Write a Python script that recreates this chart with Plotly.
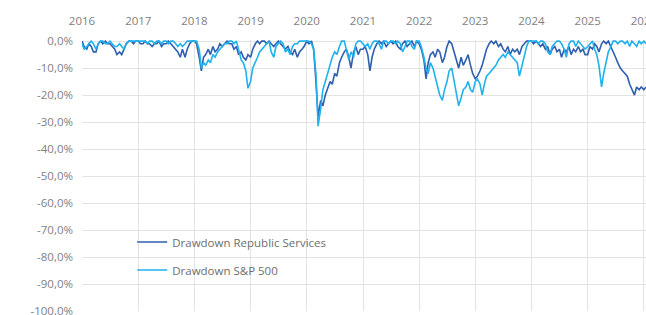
import pandas as pd
import plotly.graph_objects as go

# semi-monthly sample dates (1st and 15th of each month), Jan 2016 - Jan 2026
dates = pd.date_range("2016-01-01", periods=242, freq="SMS")

# Drawdown Republic Services (%), 24 values per year
rsg_2016 = [0, -2, -3, -1, -2, -4, -4, -1, 0, -1, 0, -1, -1, -2, -3, -5, -4, -5, -3, -1, 0, 0, -1, 0]
rsg_2017 = [0, -1, -1, 0, -1, -1, -2, -1, -1, 0, -2, -1, -1, 0, -1, -2, -3, -4, -6, -3, -6, -3, -1, 0]
rsg_2018 = [0, -1, -6, -11, -6, -5, -3, -5, -2, -4, -3, -1, -2, -1, 0, -1, -1, -3, -2, -5, -4, -6, -7, -5]
rsg_2019 = [-6, -3, -1, 0, -1, 0, 0, -1, 0, -1, -2, -1, 0, -1, -2, -3, -2, -4, -5, -3, -6, -4, -3, -2]
rsg_2020 = [0, -1, 0, -3, -15, -28, -22, -24, -20, -18, -15, -16, -12, -13, -8, -6, -4, -3, -6, -10, -4, -2, -5, -3]
rsg_2021 = [-3, -2, -5, -11, -6, -3, -1, 0, -1, 0, -2, -1, 0, -1, 0, -2, -3, -1, 0, -2, -1, 0, -2, 0]
rsg_2022 = [-1, -3, -7, -14, -8, -5, -4, -6, -3, -4, -8, -6, -2, 0, -1, -4, -7, -10, -6, -9, -7, -5, -9, -12]
rsg_2023 = [-14, -13, -11, -9, -6, -3, -1, 0, -1, 0, -2, -1, -3, -4, -2, -5, -3, -4, -3, -5, -2, -1, 0, 0]
rsg_2024 = [0, -1, 0, -1, -2, -1, -3, -2, -5, -3, -2, -4, -3, -6, -3, -4, -2, -5, -3, -4, -2, -4, -3, -5]
rsg_2025 = [-5, -2, -3, -1, -2, -4, -1, 0, -1, 0, -2, -4, -6, -8, -10, -11, -12, -13, -16, -18, -20, -17, -18, -17]
rsg_2026 = [-18, -17]

# Drawdown S&P 500 (%)
spx_2016 = [-1, -3, -2, -1, 0, -1, -3, -1, 0, 0, -1, -1, 0, -1, -2, -2, -1, -2, -3, -1, 0, 0, 0, 0]
spx_2017 = [0, 0, 0, 0, -1, 0, 0, -1, 0, 0, -1, 0, 0, -1, 0, 0, -1, -2, -1, -2, -1, 0, 0, 0]
spx_2018 = [0, 0, -3, -10, -8, -9, -7, -8, -5, -6, -4, -3, -2, -1, -1, 0, 0, -1, 0, -3, -7, -8, -11, -17.5]
spx_2019 = [-15, -10, -8, -6, -4, -3, -2, -1, 0, -4, -6, -2, -1, 0, -1, -4, -3, -5, -2, -1, -1, 0, 0, 0]
spx_2020 = [0, 0, -1, -3, -12, -31.5, -25, -18, -15, -12, -8, -6, -4, -5, -2, 0, 0, -3, -7, -4, -6, -1, 0, 0]
spx_2021 = [-1, -2, -1, -3, -1, 0, 0, -1, -3, 0, 0, -1, 0, 0, -1, 0, -1, -4, -2, 0, 0, -2, -3, 0]
spx_2022 = [0, -2, -6, -10, -12, -8, -10, -13, -17, -20, -22, -18, -15, -11, -10, -14, -19, -24, -21, -18, -17, -15, -18, -19]
spx_2023 = [-15, -14, -16, -20, -16, -13, -12, -11, -10, -9, -7, -6, -5, -6, -4, -5, -6, -7, -8, -13, -9, -5, -2, 0]
spx_2024 = [0, 0, 0, -1, 0, 0, -1, -4, -5, -2, -1, 0, 0, -1, -3, -6, -1, 0, 0, -2, 0, -1, -2, -3]
spx_2025 = [-2, -1, 0, -3, -5, -9, -17, -12, -8, -4, -2, 0, 0, -1, 0, 0, -1, 0, -2, 0, -1, -2, 0, -1]
spx_2026 = [0, -1]

rsg = (rsg_2016 + rsg_2017 + rsg_2018 + rsg_2019 + rsg_2020 + rsg_2021
       + rsg_2022 + rsg_2023 + rsg_2024 + rsg_2025 + rsg_2026)
spx = (spx_2016 + spx_2017 + spx_2018 + spx_2019 + spx_2020 + spx_2021
       + spx_2022 + spx_2023 + spx_2024 + spx_2025 + spx_2026)

series_names = ["Drawdown Republic Services", "Drawdown S&P 500"]

y_tick_vals = [0, -10, -20, -30, -40, -50, -60, -70, -80, -90, -100]
y_tick_labels = ["0,0%", "-10,0%", "-20,0%", "-30,0%", "-40,0%", "-50,0%",
                 "-60,0%", "-70,0%", "-80,0%", "-90,0%", "-100,0%"]
x_tick_vals = [f"{y}-01-01" for y in range(2016, 2027)]
x_tick_labels = [str(y) for y in range(2016, 2027)]

DARK = "#2f5fae"
LIGHT = "#1fb2ee"
FONT = "Open Sans"

fig = go.Figure()
fig.add_trace(go.Scatter(x=dates, y=rsg, mode="lines", name=series_names[0],
                         line=dict(color=DARK, width=1.6), legend="legend"))
fig.add_trace(go.Scatter(x=dates, y=spx, mode="lines", name=series_names[1],
                         line=dict(color=LIGHT, width=1.6), legend="legend2"))

legend_style = dict(font=dict(family=FONT, size=11.5, color="#6e6e6e"),
                    bgcolor="rgba(0,0,0,0)", xanchor="left", yanchor="middle",
                    itemwidth=30)

# The chart is cropped at the right and bottom edges of the 646x315 view,
# so the figure is drawn slightly larger and the overflow is hidden.
fig.update_layout(
    width=690, height=335,
    margin=dict(l=82, r=44, t=40, b=24),
    paper_bgcolor="white", plot_bgcolor="white",
    font=dict(family=FONT, size=11, color="#7f7f7f"),
    showlegend=True,
    legend=dict(x=0.089, y=(311 - 242) / 271, **legend_style),
    legend2=dict(x=0.089, y=(311 - 270) / 271, **legend_style),
    xaxis=dict(
        side="top", type="date",
        range=["2016-01-01", "2026-01-15"],
        tickvals=x_tick_vals, ticktext=x_tick_labels,
        showgrid=True, gridcolor="#e3e3e3", gridwidth=1,
        zeroline=False, showline=False, ticks="",
        tickfont=dict(family=FONT, size=11.5, color="#7f7f7f"),
        ticklabelstandoff=12, automargin=False,
    ),
    yaxis=dict(
        range=[-100, 0.4],
        tickvals=y_tick_vals, ticktext=y_tick_labels,
        showgrid=True, gridcolor="#e3e3e3", gridwidth=1,
        zeroline=False, showline=False, ticks="",
        tickfont=dict(family=FONT, size=11.5, color="#7f7f7f"),
        ticklabelstandoff=8, automargin=False,
    ),
)

fig.write_html(
    "out.html",
    config={"displayModeBar": False},
    post_script="document.body.style.margin='0';document.body.style.overflow='hidden';"
                "document.documentElement.style.overflow='hidden';",
)
